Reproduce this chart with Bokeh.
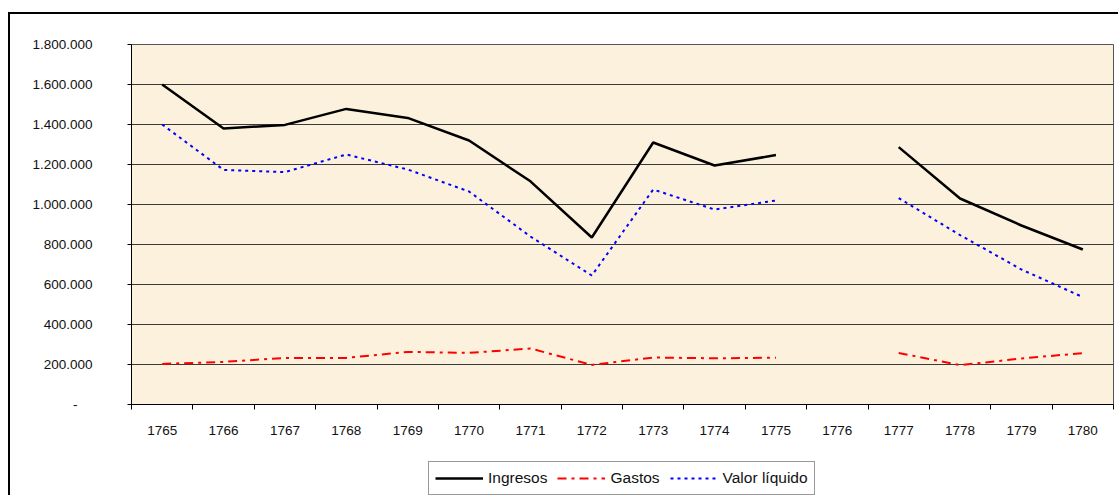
import math
from bokeh.plotting import figure
from bokeh.layouts import column
from bokeh.models import (Range1d, FixedTicker, CustomJSTickFormatter, Legend,
                          LegendItem, ColumnDataSource)
from bokeh.embed import file_html
from bokeh.resources import INLINE

nan = float("nan")
years = list(range(1765, 1781))
ingresos = [1600000, 1380000, 1398000, 1478000, 1433000, 1320000, 1116000, 835000,
            1310000, 1195000, 1247000, nan, 1287000, 1030000, 895000, 775000]
gastos = [203000, 213000, 233000, 233000, 263000, 258000, 280000, 198000,
          235000, 231000, 234000, nan, 258000, 197000, 230000, 257000]
valor_liquido = [1400000, 1173000, 1162000, 1250000, 1175000, 1065000, 840000, 645000,
                 1075000, 975000, 1020000, nan, 1032000, 847000, 675000, 537000]
y_ticks = [0, 200000, 400000, 600000, 800000, 1000000, 1200000, 1400000, 1600000, 1800000]
series_labels = ["Ingresos", "Gastos", "Valor líquido"]
series_cols = ["ingresos", "gastos", "valor"]

src = ColumnDataSource(dict(year=years, ingresos=ingresos, gastos=gastos, valor=valor_liquido))

FONT = "Liberation Sans"
STYLES = [dict(line_color="black", line_width=2.5),
          dict(line_color="#FF0000", line_width=2, line_dash="9 5 3 5"),
          dict(line_color="#0000FF", line_width=2, line_dash="3 4")]

p = figure(frame_width=982, frame_height=360, output_backend="svg", toolbar_location=None,
           x_range=Range1d(years[0] - 0.5, years[-1] + 0.5),
           y_range=Range1d(y_ticks[0], y_ticks[-1]),
           min_border_left=123, min_border_top=32, min_border_right=5, min_border_bottom=50,
           background_fill_color="#FCF1DC", border_fill_color=None,
           outline_line_color="#555555", outline_line_width=1)
p.styles = {"box-shadow": "inset 2px 2px 0 0 #000000"}

for col, st in zip(series_cols, STYLES):
    p.line("year", col, source=src, **st)

# x axis
p.xaxis.ticker = FixedTicker(ticks=years, minor_ticks=[y - 0.5 for y in years] + [years[-1] + 0.5])
p.xaxis.major_tick_line_color = None
p.xaxis.major_tick_out = 5
p.xaxis.minor_tick_out = 5
p.xaxis.minor_tick_in = 0
p.xaxis.minor_tick_line_color = "black"
p.xaxis.axis_line_color = "black"
p.xaxis.major_label_text_font = FONT
p.xaxis.major_label_text_font_size = "13.5px"
p.xaxis.major_label_text_color = "#111111"
p.xaxis.major_label_standoff = 16
p.xgrid.grid_line_color = None

# y axis
p.yaxis.ticker = FixedTicker(ticks=y_ticks, minor_ticks=[])
p.yaxis.formatter = CustomJSTickFormatter(code=r"""
if (tick == 0) return '-\u00a0\u00a0\u00a0\u00a0';
return Math.round(tick).toString().replace(/\B(?=(\d{3})+(?!\d))/g, '.');
""")
p.yaxis.major_tick_out = 4
p.yaxis.major_tick_in = 0
p.yaxis.major_tick_line_color = "black"
p.yaxis.axis_line_color = "black"
p.yaxis.major_label_text_font = FONT
p.yaxis.major_label_text_font_size = "13.5px"
p.yaxis.major_label_text_color = "#111111"
p.yaxis.major_label_standoff = 35
p.ygrid.grid_line_color = "#3a3a3a"
p.ygrid.grid_line_width = 1

# legend strip: same series, drawn outside this strip's visible range, only the legend shows
lg = figure(width=1110, height=41, output_backend="svg", toolbar_location=None,
            x_range=Range1d(0, 1), y_range=Range1d(0, 1),
            x_axis_type=None, y_axis_type=None,
            min_border=0, min_border_left=0, min_border_right=0,
            min_border_top=0, min_border_bottom=0,
            background_fill_color=None, border_fill_color=None, outline_line_color=None)
lg.styles = {"box-shadow": "inset 2px 0 0 0 #000000"}
lg.xgrid.visible = False
lg.ygrid.visible = False
items = []
for lab, col, st in zip(series_labels, series_cols, STYLES):
    r = lg.line("year", col, source=src, **st)
    items.append(LegendItem(label=lab, renderers=[r]))

legend = Legend(items=items, orientation="horizontal", location=(297, 0),
                label_text_font=FONT, label_text_font_size="15.5px",
                label_text_color="#111111",
                glyph_width=48, glyph_height=20, label_height=20,
                label_standoff=5, spacing=10, padding=6, margin=0,
                border_line_color="#333333", border_line_width=1,
                background_fill_color="white", background_fill_alpha=1)
lg.add_layout(legend, "center")

layout = column(p, lg, spacing=0)
layout.margin = (12, 0, 0, 8)

open("out.html", "w").write(file_html(layout, INLINE))
